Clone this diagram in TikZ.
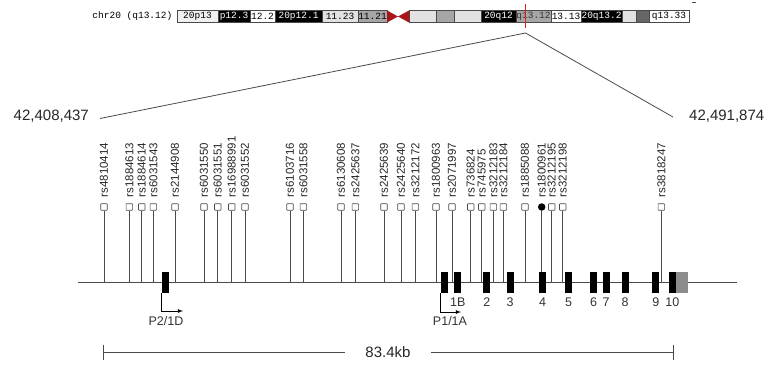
\documentclass[tikz,border=0pt]{standalone}
\usepackage{fontspec}
\setmainfont{Liberation Sans}
\setmonofont{Liberation Mono}
\usepackage{tikz}
\definecolor{ln}{HTML}{4A4A4A}
\definecolor{cen}{HTML}{A8161C}
\definecolor{redmark}{HTML}{E8201C}
\definecolor{lgr}{HTML}{E2E2E2}
\definecolor{mgr}{HTML}{A6A6A6}
\definecolor{dgr}{HTML}{666666}
\definecolor{utrc}{HTML}{8C8C8C}

\begin{document}
\begin{tikzpicture}[x=1pt, y=-1pt, >=latex,
  band/.style={draw=ln, line width=0.6pt},
  bandtxt/.style={font=\fontsize{9.5}{10}\ttfamily, inner sep=0pt},
  snp/.style={draw=ln, fill=white, minimum size=6.5pt, inner sep=0pt, line width=0.6pt, rounded corners=0.5pt},
  snpdot/.style={circle, fill=black, minimum size=7.5pt, inner sep=0pt},
  stem/.style={draw=ln, line width=0.8pt},
  rsid/.style={rotate=90, anchor=west, font=\fontsize{11.5}{12}\selectfont, text=black!85, inner sep=0pt},
  exon/.style={fill=black, minimum width=7pt, minimum height=21pt, inner sep=0pt},
  exnum/.style={font=\fontsize{12.5}{13}\selectfont, text=black!80},
  bigtxt/.style={font=\fontsize{15}{15}\selectfont, text=black!85, inner sep=0pt}]
  \useasboundingbox (0,0) rectangle (768,369);

  \node[anchor=east, font=\fontsize{9.5}{10}\ttfamily, inner sep=0pt] (chr) at (172.5,16.5) {chr20 (q13.12)};
  \foreach \a/\b/\bg/\fg/\txt in {177/218/black!6/black/20p13, 218/250/black/white/p12.3,
      250/275/white/black/12.2, 275/322/black/white/20p12.1, 322/358/lgr/black/11.23,
      358/387/mgr/black/11.21, 409/436/lgr/black/, 436/454/mgr/black/, 454/481/lgr/black/,
      481/516/black/white/20q12, 516/551/mgr/black!80/q13.12, 551/581/white/black/13.13,
      581/622/black/white/20q13.2, 622/636/lgr/black/, 636/649/dgr/black/,
      649/689/white/black/q13.33}
  {
    \filldraw[band, fill=\bg] (\a,10.5) rectangle (\b,22.5);
    \node[bandtxt, text=\fg] at ({(\a+\b)/2},16.5) {\txt};
  }
  \fill[cen] (387,10.5) -- (398,16.5) -- (387,22.5) -- cycle;
  \fill[cen] (409,10.5) -- (398,16.5) -- (409,22.5) -- cycle;
  \draw[redmark, line width=1.6pt] (525.5,4) -- (525.5,28);
  \draw[ln, line width=0.8pt] (692,2.5) -- (695.5,2.5);

  \coordinate (apex) at (525.5,33);
  \node[bigtxt, anchor=east] (lpos) at (89,116) {42,408,437};
  \node[bigtxt, anchor=west] (rpos) at (689,116) {42,491,874};
  \coordinate (zl) at (100,118.5);
  \coordinate (zr) at (673,117);
  \draw[ln, line width=0.8pt] (zl) -- (apex) -- (zr);

  \coordinate (gl) at (78,282);
  \coordinate (gr) at (737,282);
  \draw[ln, line width=0.9pt] (gl) -- (gr);

  \foreach \x/\id/\s [count=\i] in {104/rs4810414/snp, 129.3/rs1884613/snp, 141.7/rs1884614/snp,
      153.3/rs6031543/snp, 175/rs2144908/snp, 204/rs6031550/snp, 217.7/rs6031551/snp,
      231.7/rs16988991/snp, 245/rs6031552/snp, 290/rs6103716/snp, 303.3/rs6031558/snp,
      341/rs6130608/snp, 355.3/rs2425637/snp, 384/rs2425639/snp, 401/rs2425640/snp,
      415.3/rs3212172/snp, 436/rs1800963/snp, 452/rs2071997/snp, 470.7/rs736824/snp,
      481.7/rs745975/snp, 493.3/rs3212183/snp, 503.3/rs3212184/snp, 525/rs1885088/snp,
      541.7/rs1800961/snpdot, 551.7/rs3212195/snp, 562.7/rs3212198/snp, 661.3/rs3818247/snp}
  {
    \node[\s] (s\i) at (\x,207) {};
    \node[rsid] (r\i) at (\x,197.5) {\id};
    \draw[stem] (s\i) -- (s\i |- gl);
  }

  \node[exon, minimum width=7.5pt] (x1d) at (165.6,282.5) {};
  \node[exon] (x1a) at (444,282.5) {};
  \foreach \c/\n in {457.8/1B, 486.8/2, 510.2/3, 542.5/4, 568.5/5, 593.7/6, 606.2/7,
      625/8, 655.8/9, 672.3/10}
    \node[exon, label={[exnum, label distance=1.5pt]below:\n}] (x\n) at (\c,282.5) {};
  \node[exon, fill=utrc, minimum width=11.6pt, anchor=west] (utr) at (x10.east) {};

  \coordinate (p2) at (183,311);
  \coordinate (p1) at (461,312);
  \draw[->, line width=0.8pt] (x1d.south west) |- (p2);
  \draw[->, line width=0.8pt] (x1a.south west) |- (p1);
  \node[exnum] (p2lab) at (166,321) {P2/1D};
  \node[exnum] (p1lab) at (450,321) {P1/1A};

  \coordinate (sbl) at (103,352);
  \coordinate (sbr) at (673,352);
  \node[bigtxt, inner xsep=20pt] (sbt) at (388,352) {83.4kb};
  \draw[ln, line width=0.8pt] (sbl) -- (sbt) -- (sbr);
  \draw[ln, line width=0.8pt] (103,344.5) -- (103,360);
  \draw[ln, line width=0.8pt] (673,344.5) -- (673,360);
\end{tikzpicture}
\end{document}
